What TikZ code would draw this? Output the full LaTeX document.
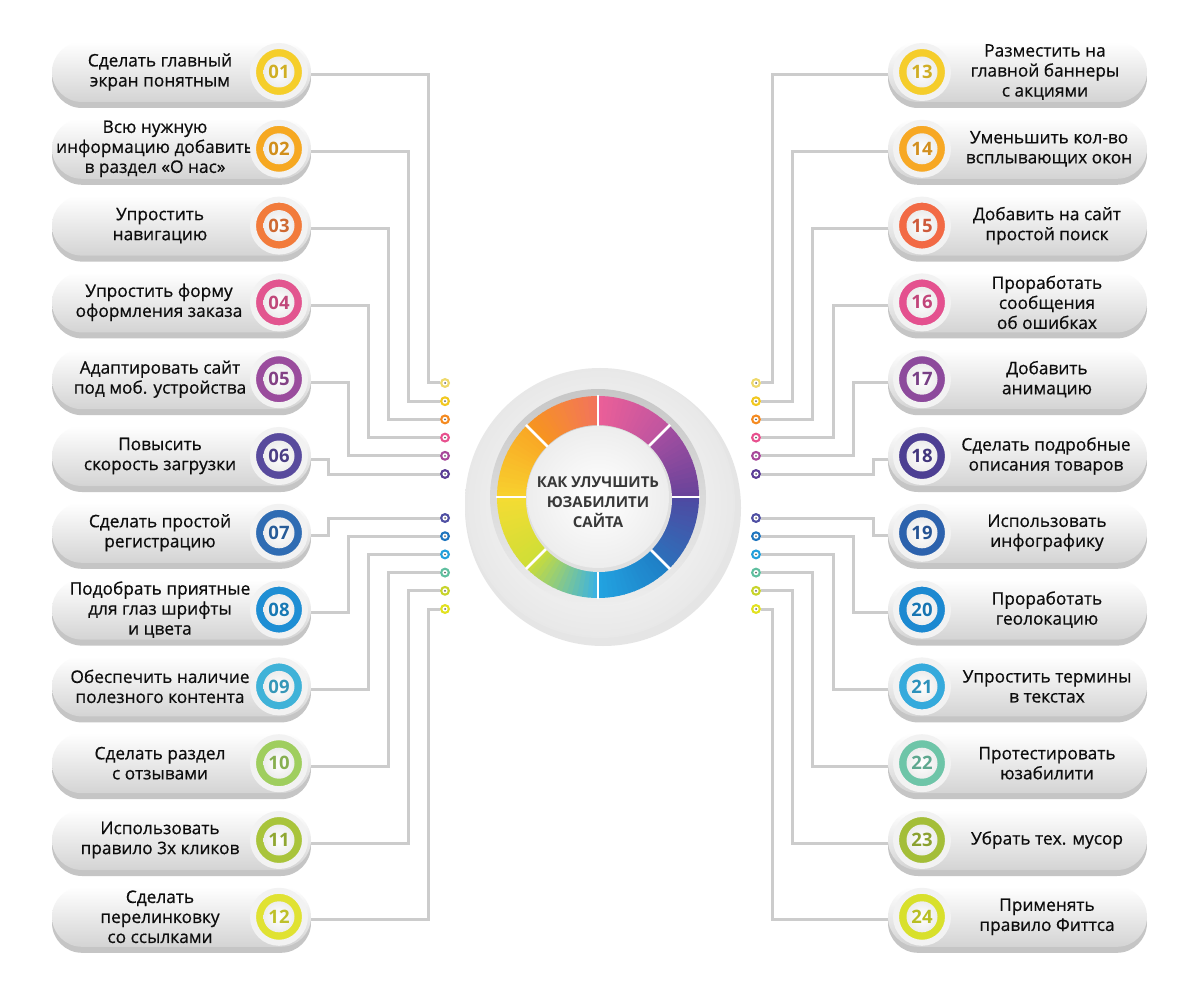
\documentclass[tikz,border=0pt]{standalone}
\usepackage{fontspec}
\setmainfont{Open Sans}
\newfontfamily\itemfont[UprightFeatures={FakeBold=0.6}]{Open Sans}
\usepackage{tikz}
\usetikzlibrary{shadows}

% badge colours
\definecolor{bc1}{HTML}{F5CE2A}
\definecolor{bc2}{HTML}{F6A821}
\definecolor{bc3}{HTML}{F27B3B}
\definecolor{bc4}{HTML}{E2558F}
\definecolor{bc5}{HTML}{9A4C9D}
\definecolor{bc6}{HTML}{584A9D}
\definecolor{bc7}{HTML}{2F6CB3}
\definecolor{bc8}{HTML}{1E8ED4}
\definecolor{bc9}{HTML}{3FB2D8}
\definecolor{bc10}{HTML}{9FCE5E}
\definecolor{bc11}{HTML}{A9C43B}
\definecolor{bc12}{HTML}{E0E232}
\definecolor{bc13}{HTML}{F5CD2B}
\definecolor{bc14}{HTML}{F7A824}
\definecolor{bc15}{HTML}{F26A45}
\definecolor{bc16}{HTML}{E4518F}
\definecolor{bc17}{HTML}{8D4A9C}
\definecolor{bc18}{HTML}{4D3F93}
\definecolor{bc19}{HTML}{2C62AD}
\definecolor{bc20}{HTML}{1C89D1}
\definecolor{bc21}{HTML}{35AADC}
\definecolor{bc22}{HTML}{6EC5A8}
\definecolor{bc23}{HTML}{A4BE38}
\definecolor{bc24}{HTML}{D8E02B}
% dot colours
\definecolor{dc1}{HTML}{EED96A}
\definecolor{dc2}{HTML}{F2C81F}
\definecolor{dc3}{HTML}{F58A1F}
\definecolor{dc4}{HTML}{E8508E}
\definecolor{dc5}{HTML}{A8489A}
\definecolor{dc6}{HTML}{5B3D96}
\definecolor{dc7}{HTML}{4F4FA3}
\definecolor{dc8}{HTML}{1F75BE}
\definecolor{dc9}{HTML}{22A0DC}
\definecolor{dc10}{HTML}{5FBF9F}
\definecolor{dc11}{HTML}{C8D42A}
\definecolor{dc12}{HTML}{E2E21F}
% ring colours
\definecolor{rg0a}{HTML}{6A449A}
\definecolor{rg0b}{HTML}{A24EA0}
\definecolor{rg1a}{HTML}{C055A0}
\definecolor{rg1b}{HTML}{EA5F98}
\definecolor{rg2a}{HTML}{F2745B}
\definecolor{rg2b}{HTML}{F7951F}
\definecolor{rg3a}{HTML}{F9A825}
\definecolor{rg3b}{HTML}{F8D02E}
\definecolor{rg4a}{HTML}{F4DC33}
\definecolor{rg4b}{HTML}{D0DE36}
\definecolor{rg5a}{HTML}{C8DC3C}
\definecolor{rg5b}{HTML}{3DB3E0}
\definecolor{rg6a}{HTML}{22A2E0}
\definecolor{rg6b}{HTML}{1F7FC6}
\definecolor{rg7a}{HTML}{2E6FBA}
\definecolor{rg7b}{HTML}{4E4AA2}

\begin{document}
\begin{tikzpicture}[x=1pt, y=-1pt,
    pillbox/.style={rounded corners=30pt, minimum width=259pt, minimum height=60pt,
      top color=white, bottom color=black!17,
      drop shadow={shadow xshift=0pt, shadow yshift=-6pt, fill=black!45, opacity=0.5}},
    itemtext/.style={align=center, text=black!95, font=\itemfont\fontsize{17.3}{20}\selectfont},
    badgering/.style={circle, minimum size=52pt, inner sep=0pt, fill=#1, draw=black!5,
      line width=6pt, text=#1!85!black, font=\fontsize{18.5}{18}\selectfont\bfseries,
      path picture={\shade[inner color=white, outer color=black!12]
        (path picture bounding box.center) circle (15.5pt);}},
    enddot/.style={circle, minimum size=10pt, inner sep=0pt, fill=#1,
      path picture={\fill[white] (path picture bounding box.center) circle (2.6pt);
        \fill[black!60] (path picture bounding box.center) circle (1pt);}},
    wire/.style={draw=black!20, line width=3pt}]

\fill[white] (0,0) rectangle (1200,992);
\useasboundingbox (0,0) rectangle (1200,992);

% left pills
\node[pillbox] (p1) at (181.5,72) {};
\node[pillbox] (p2) at (181.5,148.8) {};
\node[pillbox] (p3) at (181.5,225.6) {};
\node[pillbox] (p4) at (181.5,302.4) {};
\node[pillbox] (p5) at (181.5,379.2) {};
\node[pillbox] (p6) at (181.5,456) {};
\node[pillbox] (p7) at (181.5,532.8) {};
\node[pillbox] (p8) at (181.5,609.6) {};
\node[pillbox] (p9) at (181.5,686.4) {};
\node[pillbox] (p10) at (181.5,763.2) {};
\node[pillbox] (p11) at (181.5,840) {};
\node[pillbox] (p12) at (181.5,916.8) {};

\node[itemtext] (t1) at (160,72) {Сделать главный\\экран понятным};
\node[itemtext] (t2) at (155,148.8) {Всю нужную\\информацию добавить\\в раздел «О нас»};
\node[itemtext] (t3) at (160,225.6) {Упростить\\навигацию};
\node[itemtext] (t4) at (159,302.4) {Упростить форму\\оформления заказа};
\node[itemtext] (t5) at (160,379.2) {Адаптировать сайт\\под моб. устройства};
\node[itemtext] (t6) at (160,456) {Повысить\\скорость загрузки};
\node[itemtext] (t7) at (160,532.8) {Сделать простой\\регистрацию};
\node[itemtext] (t8) at (160,609.6) {Подобрать приятные\\для глаз шрифты\\и цвета};
\node[itemtext] (t9) at (160,686.4) {Обеспечить наличие\\полезного контента};
\node[itemtext] (t10) at (160,763.2) {Сделать раздел\\с отзывами};
\node[itemtext] (t11) at (160,840) {Использовать\\правило 3х кликов};
\node[itemtext] (t12) at (160,916.8) {Сделать\\перелинковку\\со ссылками};

\node[badgering=bc1] (b1) at (279,72) {01};
\node[badgering=bc2] (b2) at (279,148.8) {02};
\node[badgering=bc3] (b3) at (279,225.6) {03};
\node[badgering=bc4] (b4) at (279,302.4) {04};
\node[badgering=bc5] (b5) at (279,379.2) {05};
\node[badgering=bc6] (b6) at (279,456) {06};
\node[badgering=bc7] (b7) at (279,532.8) {07};
\node[badgering=bc8] (b8) at (279,609.6) {08};
\node[badgering=bc9] (b9) at (279,686.4) {09};
\node[badgering=bc10] (b10) at (279,763.2) {10};
\node[badgering=bc11] (b11) at (279,840) {11};
\node[badgering=bc12] (b12) at (279,916.8) {12};

% right pills
\node[pillbox] (p13) at (1017.5,72) {};
\node[pillbox] (p14) at (1017.5,148.8) {};
\node[pillbox] (p15) at (1017.5,225.6) {};
\node[pillbox] (p16) at (1017.5,302.4) {};
\node[pillbox] (p17) at (1017.5,379.2) {};
\node[pillbox] (p18) at (1017.5,456) {};
\node[pillbox] (p19) at (1017.5,532.8) {};
\node[pillbox] (p20) at (1017.5,609.6) {};
\node[pillbox] (p21) at (1017.5,686.4) {};
\node[pillbox] (p22) at (1017.5,763.2) {};
\node[pillbox] (p23) at (1017.5,840) {};
\node[pillbox] (p24) at (1017.5,916.8) {};

\node[itemtext] (t13) at (1045,72) {Разместить на\\главной баннеры\\с акциями};
\node[itemtext] (t14) at (1049,148.8) {Уменьшить кол-во\\всплывающих окон};
\node[itemtext] (t15) at (1047,225.6) {Добавить на сайт\\простой поиск};
\node[itemtext] (t16) at (1047,302.4) {Проработать\\сообщения\\об ошибках};
\node[itemtext] (t17) at (1047,379.2) {Добавить\\анимацию};
\node[itemtext] (t18) at (1046,456) {Сделать подробные\\описания товаров};
\node[itemtext] (t19) at (1047,532.8) {Использовать\\инфографику};
\node[itemtext] (t20) at (1047,609.6) {Проработать\\геолокацию};
\node[itemtext] (t21) at (1047,686.4) {Упростить термины\\в текстах};
\node[itemtext] (t22) at (1047,763.2) {Протестировать\\юзабилити};
\node[itemtext] (t23) at (1047,840) {Убрать тех. мусор};
\node[itemtext] (t24) at (1047,916.8) {Применять\\правило Фиттса};

\node[badgering=bc13] (b13) at (922,72) {13};
\node[badgering=bc14] (b14) at (922,148.8) {14};
\node[badgering=bc15] (b15) at (922,225.6) {15};
\node[badgering=bc16] (b16) at (922,302.4) {16};
\node[badgering=bc17] (b17) at (922,379.2) {17};
\node[badgering=bc18] (b18) at (922,456) {18};
\node[badgering=bc19] (b19) at (922,532.8) {19};
\node[badgering=bc20] (b20) at (922,609.6) {20};
\node[badgering=bc21] (b21) at (922,686.4) {21};
\node[badgering=bc22] (b22) at (922,763.2) {22};
\node[badgering=bc23] (b23) at (922,840) {23};
\node[badgering=bc24] (b24) at (922,916.8) {24};

% dots next to the circle
\node[enddot=dc1] (d1) at (445,383) {};
\node[enddot=dc2] (d2) at (445,401.2) {};
\node[enddot=dc3] (d3) at (445,419.4) {};
\node[enddot=dc4] (d4) at (445,437.6) {};
\node[enddot=dc5] (d5) at (445,455.8) {};
\node[enddot=dc6] (d6) at (445,474) {};
\node[enddot=dc7] (d7) at (445,518) {};
\node[enddot=dc8] (d8) at (445,536.2) {};
\node[enddot=dc9] (d9) at (445,554.4) {};
\node[enddot=dc10] (d10) at (445,572.6) {};
\node[enddot=dc11] (d11) at (445,590.8) {};
\node[enddot=dc12] (d12) at (445,609) {};

\node[enddot=dc1] (d13) at (756,383) {};
\node[enddot=dc2] (d14) at (756,401.2) {};
\node[enddot=dc3] (d15) at (756,419.4) {};
\node[enddot=dc4] (d16) at (756,437.6) {};
\node[enddot=dc5] (d17) at (756,455.8) {};
\node[enddot=dc6] (d18) at (756,474) {};
\node[enddot=dc7] (d19) at (756,518) {};
\node[enddot=dc8] (d20) at (756,536.2) {};
\node[enddot=dc9] (d21) at (756,554.4) {};
\node[enddot=dc10] (d22) at (756,572.6) {};
\node[enddot=dc11] (d23) at (756,590.8) {};
\node[enddot=dc12] (d24) at (756,609) {};

% wires
\draw[wire] ([yshift=-3pt]p1.east) -| (428,0 |- d1) -- (d1);
\draw[wire] ([yshift=-3pt]p2.east) -| (408,0 |- d2) -- (d2);
\draw[wire] ([yshift=-3pt]p3.east) -| (388,0 |- d3) -- (d3);
\draw[wire] ([yshift=-3pt]p4.east) -| (368,0 |- d4) -- (d4);
\draw[wire] ([yshift=-3pt]p5.east) -| (348,0 |- d5) -- (d5);
\draw[wire] ([yshift=-3pt]p6.east) -| (328,0 |- d6) -- (d6);
\draw[wire] ([yshift=-3pt]p7.east) -| (328,0 |- d7) -- (d7);
\draw[wire] ([yshift=-3pt]p8.east) -| (348,0 |- d8) -- (d8);
\draw[wire] ([yshift=-3pt]p9.east) -| (368,0 |- d9) -- (d9);
\draw[wire] ([yshift=-3pt]p10.east) -| (388,0 |- d10) -- (d10);
\draw[wire] ([yshift=-3pt]p11.east) -| (408,0 |- d11) -- (d11);
\draw[wire] ([yshift=-3pt]p12.east) -| (428,0 |- d12) -- (d12);

\draw[wire] ([yshift=-3pt]p13.west) -| (772,0 |- d13) -- (d13);
\draw[wire] ([yshift=-3pt]p14.west) -| (792,0 |- d14) -- (d14);
\draw[wire] ([yshift=-3pt]p15.west) -| (812,0 |- d15) -- (d15);
\draw[wire] ([yshift=-3pt]p16.west) -| (833,0 |- d16) -- (d16);
\draw[wire] ([yshift=-3pt]p17.west) -| (853,0 |- d17) -- (d17);
\draw[wire] ([yshift=-3pt]p18.west) -| (873,0 |- d18) -- (d18);
\draw[wire] ([yshift=-3pt]p19.west) -| (873,0 |- d19) -- (d19);
\draw[wire] ([yshift=-3pt]p20.west) -| (853,0 |- d20) -- (d20);
\draw[wire] ([yshift=-3pt]p21.west) -| (833,0 |- d21) -- (d21);
\draw[wire] ([yshift=-3pt]p22.west) -| (812,0 |- d22) -- (d22);
\draw[wire] ([yshift=-3pt]p23.west) -| (792,0 |- d23) -- (d23);
\draw[wire] ([yshift=-3pt]p24.west) -| (772,0 |- d24) -- (d24);

% centre wheel
\begin{scope}[shift={(598,497)}, yscale=-1]
  \fill[black!10] (5,-11) circle (138);
  \shade[inner color=white, outer color=black!9] (2,-6) circle (135);
  \shade[top color=black!22, bottom color=black!7] (0,0) circle (108);
  \foreach \a/\ca/\cb in {0/rg0a/rg0b, 45/rg1a/rg1b, 90/rg2a/rg2b, 135/rg3a/rg3b,
      180/rg4a/rg4b, 225/rg5a/rg5b, 270/rg6a/rg6b, 315/rg7a/rg7b} {
    \foreach \k in {0,...,14} {
      \pgfmathsetmacro\s{\a+3*\k}
      \pgfmathsetmacro\e{\s+3.4}
      \pgfmathtruncatemacro\p{100*\k/14}
      \fill[\cb!\p!\ca] (\s:101) arc[start angle=\s, end angle=\e, radius=101]
        -- (\e:72) arc[start angle=\e, end angle=\s, radius=72] -- cycle;
    }
  }
  \foreach \a in {0,45,...,315}
    \draw[white, line width=2.5pt] (\a:71) -- (\a:102);
  \fill[black!12] (1,-2) circle (73);
  \shade[inner color=white, outer color=black!7] (0,0) circle (71);
  \node[align=center, text=black!78, font=\fontsize{15}{20}\selectfont\bfseries]
    (title) at (0,-5) {КАК УЛУЧШИТЬ\\ЮЗАБИЛИТИ\\САЙТА};
\end{scope}
\end{tikzpicture}
\end{document}
